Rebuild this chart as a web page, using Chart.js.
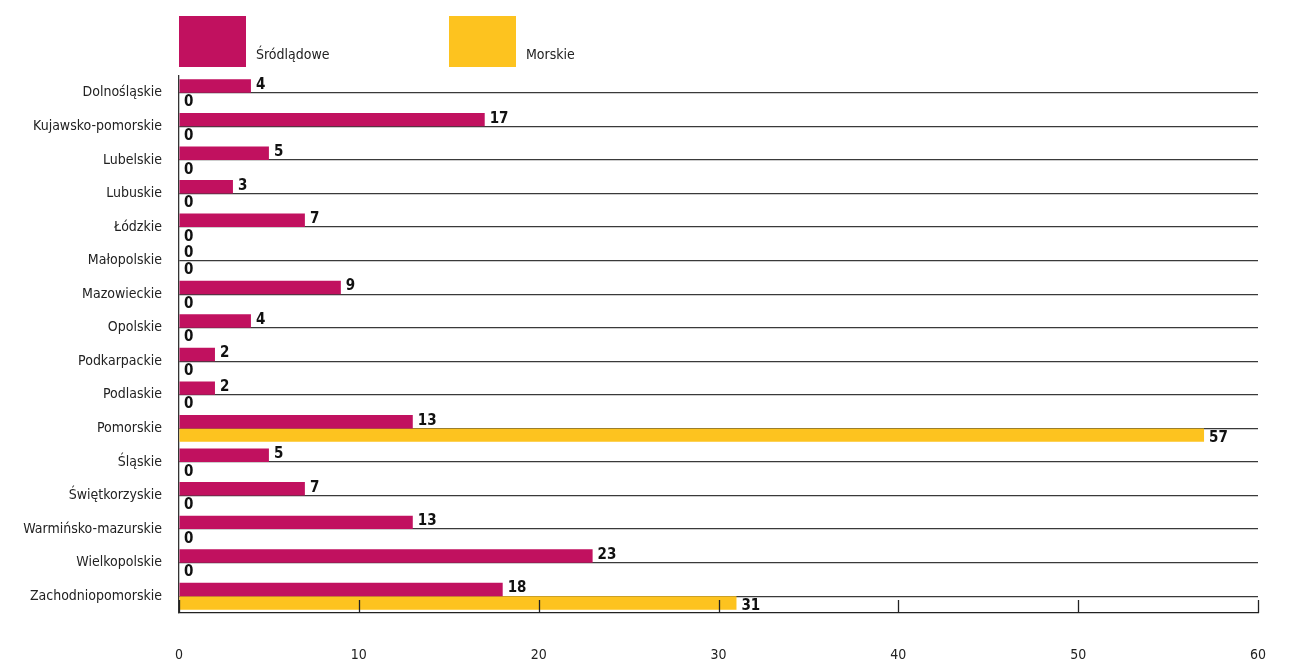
<!DOCTYPE html>
<html>
<head>
<meta charset="utf-8">
<script src="https://cdn.jsdelivr.net/npm/chart.js@4/dist/chart.umd.min.js"></script>
<style>
  html, body { margin: 0; padding: 0; background: #fff; }
  #wrap { width: 1303px; height: 661px; position: relative; }
</style>
</head>
<body>
<div id="wrap"><canvas id="c" width="1303" height="661"></canvas></div>
<script>
// Voivodeships
const categories = [
  'Dolnośląskie', 'Kujawsko-pomorskie', 'Lubelskie', 'Lubuskie', 'Łódzkie',
  'Małopolskie', 'Mazowieckie', 'Opolskie', 'Podkarpackie', 'Podlaskie',
  'Pomorskie', 'Śląskie', 'Świętkorzyskie', 'Warmińsko-mazurskie',
  'Wielkopolskie', 'Zachodniopomorskie'
];
// Inland waters
const srodladowe = [4, 17, 5, 3, 7, 0, 9, 4, 2, 2, 13, 5, 7, 13, 23, 18];
// Sea waters
const morskie = [0, 0, 0, 0, 0, 0, 0, 0, 0, 0, 57, 0, 0, 0, 0, 31];
// Horizontal axis ticks
const xTicks = [0, 10, 20, 30, 40, 50, 60];

const seriesNames = ['Śródlądowe', 'Morskie'];
const seriesColors = ['#C1115F', '#FDC31F'];

const FONT = '"Liberation Sans Narrow", "DejaVu Sans Condensed", "Open Sans", sans-serif';

// Value labels to the right of each bar end
const valueLabels = {
  id: 'valueLabels',
  afterDatasetsDraw(chart, args, opts) {
    const ctx = chart.ctx;
    ctx.save();
    ctx.font = 'bold 15px ' + FONT;
    ctx.fillStyle = '#111';
    ctx.textAlign = 'left';
    ctx.textBaseline = 'middle';
    chart.data.datasets.forEach((ds, di) => {
      const meta = chart.getDatasetMeta(di);
      const dy = opts.shift[di] || 0;
      meta.data.forEach((bar, i) => {
        ctx.fillText(String(ds.data[i]), bar.x + 5, bar.y + dy);
      });
    });
    ctx.restore();
  }
};

// Inward tick marks on the bottom axis
const innerTicks = {
  id: 'innerTicks',
  afterDraw(chart) {
    const ctx = chart.ctx;
    const xs = chart.scales.x;
    const bottom = chart.chartArea.bottom;
    ctx.save();
    ctx.strokeStyle = '#222';
    ctx.lineWidth = 1.3;
    xs.ticks.forEach((t, i) => {
      const px = Math.round(xs.getPixelForTick(i)) + 0.5;
      ctx.beginPath();
      ctx.moveTo(px, bottom);
      ctx.lineTo(px, bottom - 13);
      ctx.stroke();
    });
    ctx.restore();
  }
};

// Legend: large swatches with the caption aligned to their lower part
const blockLegend = {
  id: 'blockLegend',
  afterDraw(chart, args, opts) {
    const ctx = chart.ctx;
    ctx.save();
    ctx.font = '14px ' + FONT;
    ctx.textBaseline = 'alphabetic';
    ctx.textAlign = 'left';
    chart.data.datasets.forEach((ds, i) => {
      const x = opts.x + i * opts.step;
      ctx.fillStyle = ds.backgroundColor;
      ctx.fillRect(x, opts.y, opts.w, opts.h);
      ctx.fillStyle = '#222';
      ctx.fillText(ds.label, x + opts.w + 10, opts.y + 43);
    });
    ctx.restore();
  }
};

new Chart(document.getElementById('c'), {
  type: 'bar',
  data: {
    labels: categories,
    datasets: [
      { label: seriesNames[0], data: srodladowe, backgroundColor: seriesColors[0], borderWidth: 0 },
      { label: seriesNames[1], data: morskie, backgroundColor: seriesColors[1], borderWidth: 0 }
    ]
  },
  options: {
    indexAxis: 'y',
    responsive: false,
    animation: false,
    devicePixelRatio: 1,
    layout: { padding: { top: 76, right: 45, left: 0, bottom: 0 } },
    datasets: { bar: { categoryPercentage: 0.8, barPercentage: 1.0 } },
    plugins: {
      legend: { display: false },
      tooltip: { enabled: false },
      blockLegend: { x: 179, y: 16, w: 67, h: 51, step: 270 },
      valueLabels: { shift: [-1, 3] }
    },
    scales: {
      x: {
        min: 0,
        max: 60,
        afterBuildTicks(scale) { scale.ticks = xTicks.map(v => ({ value: v })); },
        afterFit(scale) { scale.height = 48; },
        grid: { display: true, drawOnChartArea: false, drawTicks: false },
        border: { display: true, color: '#222', width: 1.3 },
        ticks: {
          padding: 34,
          color: '#222',
          font: { family: FONT, size: 14 }
        }
      },
      y: {
        afterFit(scale) { scale.width = 179; },
        grid: { offset: false, drawTicks: false, color: '#3a3a3a', lineWidth: 1.3 },
        border: { display: true, color: '#333', width: 1.3 },
        ticks: {
          padding: 17,
          color: '#222',
          font: { family: FONT, size: 14 }
        }
      }
    }
  },
  plugins: [valueLabels, innerTicks, blockLegend]
});
</script>
</body>
</html>
